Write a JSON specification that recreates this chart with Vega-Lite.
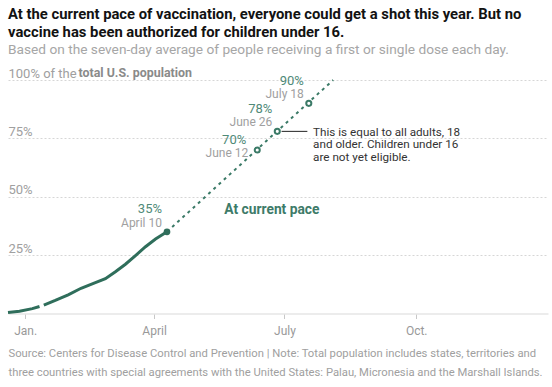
{
  "$schema": "https://vega.github.io/schema/vega-lite/v6.json",
  "autosize": {"type": "none"},
  "padding": {"left": 8, "top": 80, "right": 4, "bottom": 73.5},
  "width": 540,
  "height": 233.5,
  "config": {
    "view": {"stroke": null},
    "font": "Roboto, sans-serif"
  },
  "title": {
    "text": ["At the current pace of vaccination, everyone could get a shot this year. But no", "vaccine has been authorized for children under 16."],
    "subtitle": "Based on the seven-day average of people receiving a first or single dose each day.",
    "anchor": "start",
    "frame": "group",
    "font": "Roboto, sans-serif",
    "fontSize": 14.8,
    "fontWeight": "bold",
    "color": "#121212",
    "lineHeight": 18.4,
    "subtitleFont": "Roboto, sans-serif",
    "subtitleFontSize": 13.7,
    "subtitleColor": "#a6a6a6",
    "subtitlePadding": 3,
    "offset": 10
  },
  "datasets": {
    "actual": [
      {"date": "2020-12-20", "pct": 0.4, "seg": "a"},
      {"date": "2020-12-28", "pct": 1.0, "seg": "a"},
      {"date": "2021-01-06", "pct": 2.1, "seg": "a"},
      {"date": "2021-01-11", "pct": 3.0, "seg": "a"},
      {"date": "2021-01-14", "pct": 3.6, "seg": "b"},
      {"date": "2021-01-22", "pct": 5.6, "seg": "b"},
      {"date": "2021-01-31", "pct": 8.0, "seg": "b"},
      {"date": "2021-02-09", "pct": 10.8, "seg": "b"},
      {"date": "2021-02-19", "pct": 13.2, "seg": "b"},
      {"date": "2021-02-26", "pct": 14.9, "seg": "b"},
      {"date": "2021-03-05", "pct": 17.9, "seg": "b"},
      {"date": "2021-03-12", "pct": 21.1, "seg": "b"},
      {"date": "2021-03-19", "pct": 24.8, "seg": "b"},
      {"date": "2021-03-26", "pct": 28.6, "seg": "b"},
      {"date": "2021-04-02", "pct": 31.9, "seg": "b"},
      {"date": "2021-04-10", "pct": 35.0, "seg": "b"}
    ],
    "proj": [
      {"date": "2021-04-10", "pct": 35.0},
      {"date": "2021-08-04", "pct": 100.0}
    ],
    "marks": [
      {"date": "2021-04-10", "pct": 35, "pctLabel": "35%", "dateLabel": "April 10", "kind": "now"},
      {"date": "2021-06-12", "pct": 70, "pctLabel": "70%", "dateLabel": "June 12", "kind": "low"},
      {"date": "2021-06-26", "pct": 78, "pctLabel": "78%", "dateLabel": "June 26", "kind": "future"},
      {"date": "2021-07-18", "pct": 90, "pctLabel": "90%", "dateLabel": "July 18", "kind": "future"}
    ],
    "rules": [
      {"start": "2021-06-29", "end": "2021-07-17", "pct": 78}
    ],
    "notes": [
      {"date": "2021-07-21", "pct": 78, "note": "This is equal to all adults, 18\nand older. Children under 16\nare not yet eligible."}
    ],
    "pace": [
      {"date": "2021-05-20", "pct": 44.3, "label": "At current pace"}
    ],
    "ylab": [
      {"date": "2020-12-20", "pct": 100, "label": "total U.S. population"}
    ]
  },
  "encoding": {
    "x": {
      "field": "date",
      "type": "temporal",
      "scale": {"type": "utc", "domain": [{"year": 2020, "month": 12, "date": 20, "utc": true}, {"year": 2022, "month": 1, "date": 1, "utc": true}]},
      "axis": {
        "values": [
          {"year": 2021, "month": 1, "date": 1, "utc": true},
          {"year": 2021, "month": 4, "date": 1, "utc": true},
          {"year": 2021, "month": 7, "date": 1, "utc": true},
          {"year": 2021, "month": 10, "date": 1, "utc": true}
        ],
        "labelExpr": "['Jan.','Jan.','Jan.','April','April','April','July','July','July','Oct.','Oct.','Oct.'][utcmonth(datum.value)]",
        "grid": false,
        "domainColor": "#e6e6e6",
        "domainWidth": 1.5,
        "tickColor": "#c8c8c8",
        "tickSize": 5,
        "labelColor": "#999999",
        "labelFontSize": 12,
        "labelPadding": 7,
        "title": ["Source: Centers for Disease Control and Prevention | Note: Total population includes states, territories and", "three countries with special agreements with the United States: Palau, Micronesia and the Marshall Islands."],
        "titleAnchor": "start",
        "titleAlign": "left",
        "titleX": 0,
        "titleY": 43,
        "titleBaseline": "alphabetic",
        "titleColor": "#a0a0a0",
        "titleFontWeight": "normal",
        "titleFontSize": 11.25,
        "titleLineHeight": 18.7
      }
    },
    "y": {
      "field": "pct",
      "type": "quantitative",
      "scale": {"domain": [0, 100], "nice": false},
      "axis": {
        "values": [25, 50, 75, 100],
        "grid": true,
        "gridColor": "#d6d6d6",
        "gridDash": [2, 2],
        "domain": false,
        "ticks": false,
        "tickSize": 0,
        "labelAlign": "left",
        "labelPadding": 0,
        "labelBaseline": "alphabetic",
        "labelOffset": -3,
        "labelColor": "#a0a0a0",
        "labelFontSize": 13,
        "labelExpr": "datum.value == 100 ? '100% of the' : datum.value + '%'",
        "title": null
      }
    }
  },
  "layer": [
    {
      "data": {"name": "actual"},
      "mark": {"type": "line", "color": "#2f6e5b", "strokeWidth": 3, "strokeCap": "butt"},
      "encoding": {"detail": {"field": "seg"}}
    },
    {
      "data": {"name": "proj"},
      "mark": {"type": "line", "color": "#3b7a67", "strokeWidth": 2, "strokeDash": [3, 4]},
      "encoding": {}
    },
    {
      "data": {"name": "marks"},
      "transform": [{"filter": "datum.kind == 'now'"}],
      "mark": {"type": "point", "filled": true, "color": "#2f6e5b", "size": 45, "opacity": 1}
    },
    {
      "data": {"name": "marks"},
      "transform": [{"filter": "datum.kind != 'now'"}],
      "mark": {"type": "point", "filled": false, "fill": "white", "stroke": "#3b7a67", "strokeWidth": 2, "size": 26, "opacity": 1}
    },
    {
      "data": {"name": "marks"},
      "transform": [{"filter": "datum.kind != 'low'"}],
      "mark": {"type": "text", "align": "right", "baseline": "middle", "dx": -5, "dy": -22.5, "fontSize": 13, "color": "#4f8a78"},
      "encoding": {"text": {"field": "pctLabel"}}
    },
    {
      "data": {"name": "marks"},
      "transform": [{"filter": "datum.kind != 'low'"}],
      "mark": {"type": "text", "align": "right", "baseline": "middle", "dx": -5, "dy": -9, "fontSize": 12, "color": "#a0a0a0"},
      "encoding": {"text": {"field": "dateLabel"}}
    },
    {
      "data": {"name": "marks"},
      "transform": [{"filter": "datum.kind == 'low'"}],
      "mark": {"type": "text", "align": "right", "baseline": "middle", "dx": -11, "dy": -10.5, "fontSize": 13, "color": "#4f8a78"},
      "encoding": {"text": {"field": "pctLabel"}}
    },
    {
      "data": {"name": "marks"},
      "transform": [{"filter": "datum.kind == 'low'"}],
      "mark": {"type": "text", "align": "right", "baseline": "middle", "dx": -9, "dy": 3, "fontSize": 12, "color": "#a0a0a0"},
      "encoding": {"text": {"field": "dateLabel"}}
    },
    {
      "data": {"name": "rules"},
      "mark": {"type": "rule", "color": "#222222", "strokeWidth": 1},
      "encoding": {
        "x": {"field": "start", "type": "temporal"},
        "x2": {"field": "end"}
      }
    },
    {
      "data": {"name": "notes"},
      "mark": {"type": "text", "align": "left", "baseline": "alphabetic", "dy": 4.2, "fontSize": 11.7, "lineHeight": 12.5, "lineBreak": "\n", "color": "#333333"},
      "encoding": {"text": {"field": "note"}}
    },
    {
      "data": {"name": "pace"},
      "mark": {"type": "text", "align": "left", "baseline": "middle", "fontSize": 13.8, "fontWeight": "bold", "color": "#3e7b69"},
      "encoding": {"text": {"field": "label"}}
    },
    {
      "data": {"name": "ylab"},
      "mark": {"type": "text", "align": "left", "baseline": "alphabetic", "dx": 70.5, "dy": -3, "fontSize": 12.4, "fontWeight": "bold", "color": "#8a8a8a"},
      "encoding": {"text": {"field": "label"}}
    }
  ]
}
